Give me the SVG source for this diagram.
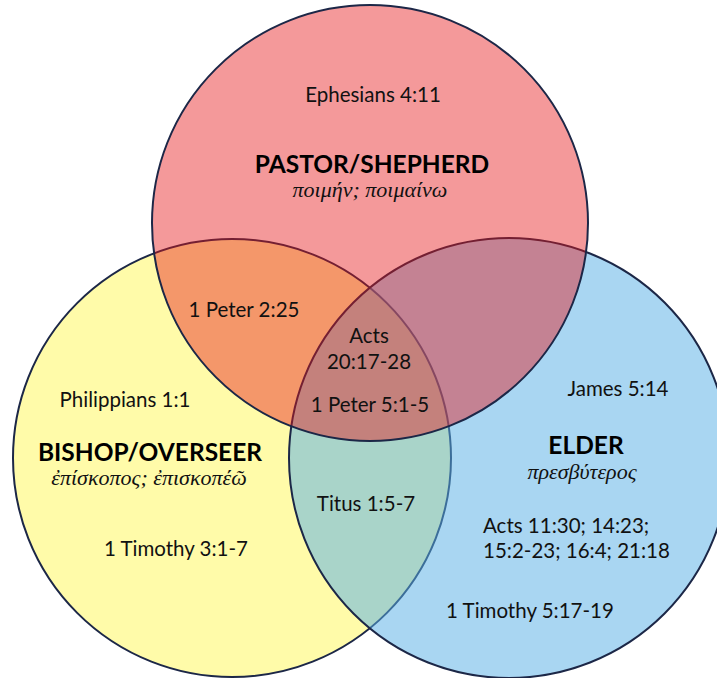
<svg xmlns="http://www.w3.org/2000/svg" width="717" height="678" viewBox="0 0 717 678">
<style>
.c{stroke:#1c2747;stroke-width:2}
.t{font-family:Lato,"Open Sans","Liberation Sans",sans-serif;font-size:20.5px;fill:#111;text-anchor:middle}
.b{font-family:Lato,"Open Sans","Liberation Sans",sans-serif;font-size:24.5px;font-weight:bold;fill:#000;text-anchor:middle}
.g{font-family:"Liberation Serif","DejaVu Serif",serif;font-style:italic;font-size:22px;fill:#111;text-anchor:middle}
</style>
<rect width="717" height="678" fill="#ffffff"/>
<g id="bishop"><circle class="c" cx="232" cy="458" r="219" fill="#fffba9"/></g>
<g id="elder"><circle class="c" cx="509" cy="458" r="220" fill="#5ab0e6" fill-opacity="0.52"/></g>
<g id="pastor"><circle class="c" cx="370" cy="223" r="218" fill="#e6171a" fill-opacity="0.44"/></g>
<g id="connectors"></g>
<g id="labels">
<text class="t" x="373" y="102">Ephesians 4:11</text>
<text class="b" x="372" y="173">PASTOR/SHEPHERD</text>
<text class="g" x="370" y="197">ποιμήν; ποιμαίνω</text>
<text class="t" x="244" y="317">1 Peter 2:25</text>
<text class="t" x="369" y="343">Acts</text>
<text class="t" x="369" y="369">20:17-28</text>
<text class="t" x="370" y="412">1 Peter 5:1-5</text>
<text class="t" x="125" y="407">Philippians 1:1</text>
<text class="b" x="150" y="461">BISHOP/OVERSEER</text>
<text class="g" x="149" y="485">ἐπίσκοπος; ἐπισκοπέῶ</text>
<text class="t" x="176" y="556">1 Timothy 3:1-7</text>
<text class="t" x="366" y="511">Titus 1:5-7</text>
<text class="t" x="618" y="396">James 5:14</text>
<text class="b" x="586" y="454">ELDER</text>
<text class="g" x="582" y="479">πρεσβύτερος</text>
<text class="t" x="483" y="533" style="text-anchor:start">Acts 11:30; 14:23;</text>
<text class="t" x="483" y="558" style="text-anchor:start">15:2-23; 16:4; 21:18</text>
<text class="t" x="530" y="618">1 Timothy 5:17-19</text>
</g>
</svg>
